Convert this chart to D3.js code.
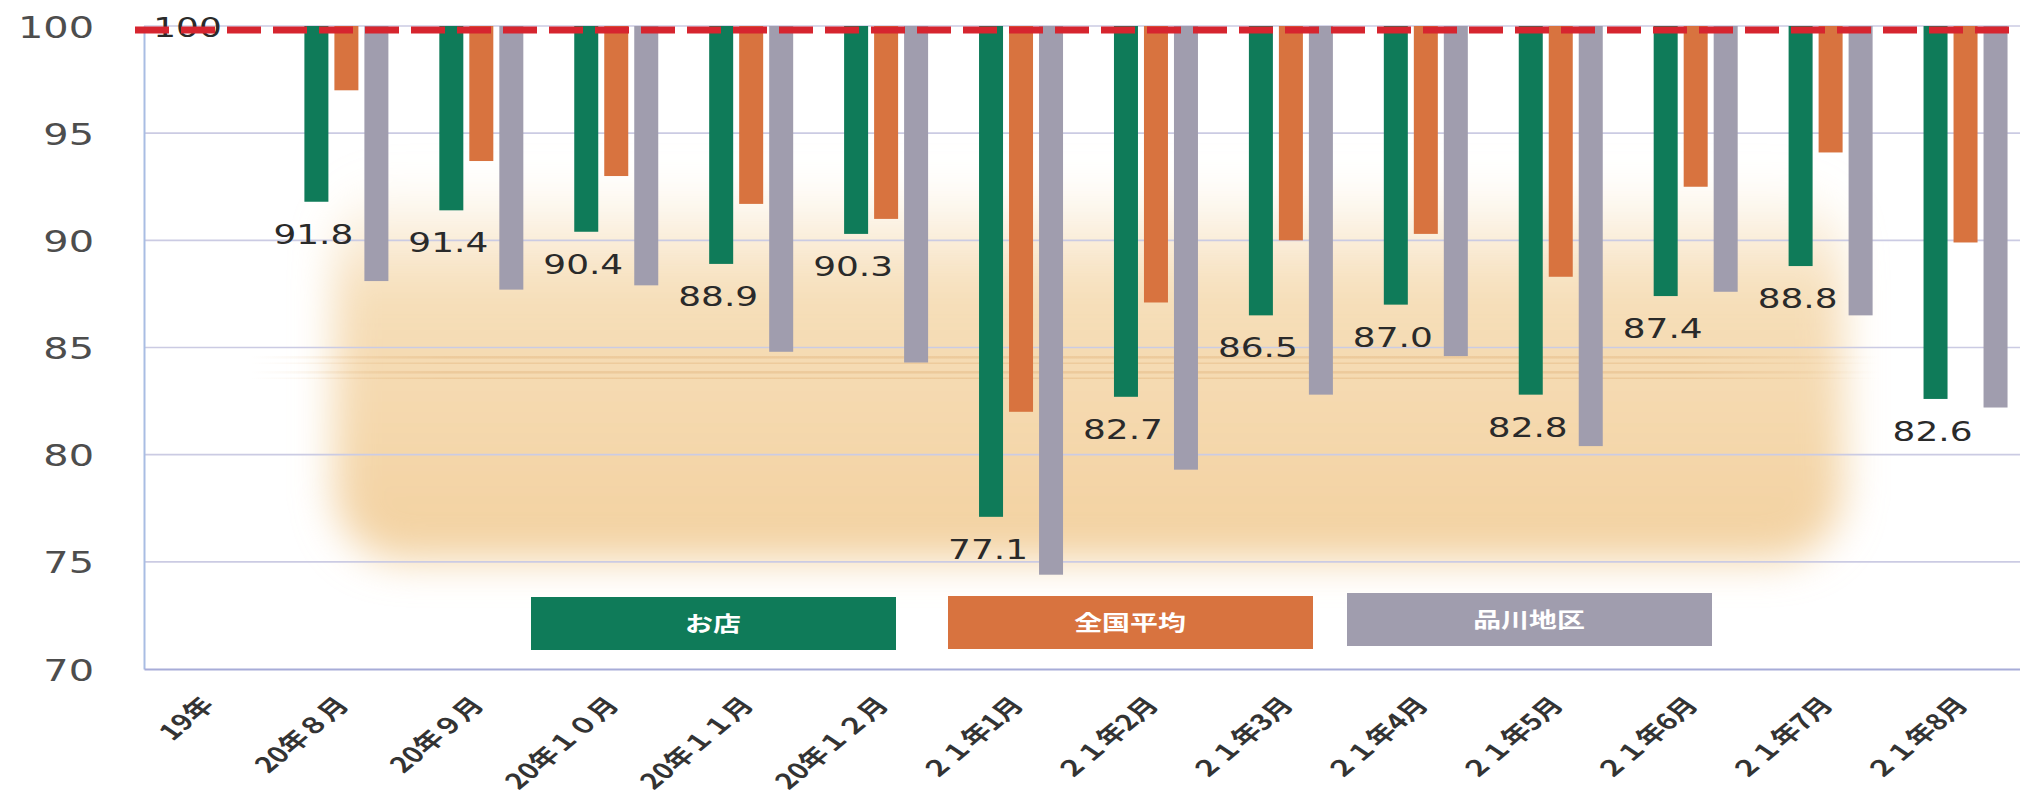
<!DOCTYPE html>
<html>
<head>
<meta charset="utf-8">
<script src="https://cdn.jsdelivr.net/npm/d3@7/dist/d3.min.js"></script>
<style>
  html, body { margin: 0; padding: 0; background: #ffffff; }
  svg { display: block; }
</style>
</head>
<body>
<svg id="chart" width="2020" height="794"></svg>
<script>
// ---------------- data ----------------
const categories = ["19年","20年８月","20年９月","20年１０月","20年１１月","20年１２月","２１年1月","２１年2月","２１年3月","２１年4月","２１年5月","２１年6月","２１年7月","２１年8月"];
const seriesNames = ["お店","全国平均","品川地区"];
const shopValues      = [100, 91.8, 91.4, 90.4, 88.9, 90.3, 77.1, 82.7, 86.5, 87.0, 82.8, 87.4, 88.8, 82.6];
const nationalValues  = [100, 97.0, 93.7, 93.0, 91.7, 91.0, 82.0, 87.1, 90.0, 90.3, 88.3, 92.5, 94.1, 89.9];
const shinagawaValues = [100, 88.1, 87.7, 87.9, 84.8, 84.3, 74.4, 79.3, 82.8, 84.6, 80.4, 87.6, 86.5, 82.2];
const yTicks = [70, 75, 80, 85, 90, 95, 100];
const baseValue = 100;

// ---------------- styles / layout ----------------
const seriesColors = ["#0f7b59", "#d8733f", "#a09dae"];
const seriesData = [shopValues, nationalValues, shinagawaValues];
const SX = 1.33; // horizontal stretch of the original picture
const W = 2020, H = 794;
const plot = { left: 144, right: 2033, top: 26, bottom: 669 };
const barW = 24, barOffset = 30;

const svg = d3.select("#chart");

const x = d3.scaleBand().domain(categories).range([plot.left, plot.right]).padding(0);
const y = d3.scaleLinear().domain([70, 100]).range([plot.bottom, plot.top]);

// ---------------- defs ----------------
const defs = svg.append("defs");
defs.append("filter").attr("id", "glowBlur")
  .attr("x", "-20%").attr("y", "-40%").attr("width", "140%").attr("height", "180%")
  .append("feGaussianBlur").attr("stdDeviation", 20);
const lg = defs.append("linearGradient").attr("id", "glowGrad").attr("x1", 0).attr("y1", 0).attr("x2", 0).attr("y2", 1);
lg.append("stop").attr("offset", "0%").attr("stop-color", "#f5dab0").attr("stop-opacity", 0.0);
lg.append("stop").attr("offset", "30%").attr("stop-color", "#f4d6a8").attr("stop-opacity", 0.8);
lg.append("stop").attr("offset", "100%").attr("stop-color", "#f1cc95").attr("stop-opacity", 0.9);
const sg = defs.append("linearGradient").attr("id", "streakGrad").attr("x1", 0).attr("y1", 0).attr("x2", 1).attr("y2", 0);
sg.append("stop").attr("offset", "0%").attr("stop-color", "#dba76a").attr("stop-opacity", 0);
sg.append("stop").attr("offset", "12%").attr("stop-color", "#dba76a").attr("stop-opacity", 0.45);
sg.append("stop").attr("offset", "88%").attr("stop-color", "#dba76a").attr("stop-opacity", 0.45);
sg.append("stop").attr("offset", "100%").attr("stop-color", "#dba76a").attr("stop-opacity", 0);

// ---------------- background glow ----------------
svg.append("rect")
  .attr("x", x(categories[1]) + 55).attr("y", y(93))
  .attr("width", x(categories[12]) + x.bandwidth() - x(categories[1]) - 110)
  .attr("height", y(75.1) - y(93))
  .attr("rx", 70)
  .attr("fill", "url(#glowGrad)")
  .attr("filter", "url(#glowBlur)");

// streaks
[84.6, 84.3, 83.9, 83.6].forEach((v, i) => {
  svg.append("rect")
    .attr("x", 250).attr("width", 1630)
    .attr("y", y(v)).attr("height", i % 2 === 0 ? 2.5 : 1.5)
    .attr("fill", "url(#streakGrad)").attr("opacity", 0.7);
});

// ---------------- gridlines ----------------
svg.append("g").selectAll("line").data(yTicks.filter(t => t > 70)).join("line")
  .attr("x1", plot.left).attr("x2", W)
  .attr("y1", d => y(d)).attr("y2", d => y(d))
  .attr("stroke", "#cbcbe3").attr("stroke-width", 1.6);

// ---------------- axes ----------------
const yAxis = svg.append("g").attr("transform", `translate(${plot.left},0)`)
  .call(d3.axisLeft(y).tickValues(yTicks).tickSize(0).tickFormat(d3.format("d")));
yAxis.select(".domain").attr("stroke", "#a9bde3").attr("stroke-width", 2);
yAxis.selectAll("text")
  .attr("x", -50 / SX).attr("dy", null).attr("y", 11)
  .attr("transform", `scale(${SX},1)`)
  .attr("text-anchor", "end")
  .style("font-family", "'DejaVu Sans', Verdana, sans-serif")
  .style("font-size", "30px").attr("fill", "#4d4d4d");

const xAxis = svg.append("g").attr("transform", `translate(0,${plot.bottom})`)
  .call(d3.axisBottom(x).tickSize(0));
xAxis.select(".domain").attr("stroke", "#a7acd8").attr("stroke-width", 2);
xAxis.selectAll("text")
  .attr("x", null).attr("y", null).attr("dy", null)
  .attr("text-anchor", "end")
  .attr("transform", `translate(4,37) scale(${SX},1) rotate(-48)`)
  .style("font-family", "'Noto Sans CJK JP', sans-serif")
  .style("font-size", "22px").style("font-weight", 600)
  .attr("fill", "#333333");

// ---------------- bars ----------------
const barsG = svg.append("g");
seriesData.forEach((vals, s) => {
  barsG.append("g").selectAll("rect").data(vals).join("rect")
    .attr("x", (d, i) => x(categories[i]) + x.bandwidth() / 2 + (s - 1) * barOffset - barW / 2)
    .attr("y", y(baseValue))
    .attr("width", barW)
    .attr("height", d => y(d) - y(baseValue))
    .attr("fill", seriesColors[s]);
});

// ---------------- value labels (お店) ----------------
svg.append("g").selectAll("text").data(shopValues).join("text")
  .attr("transform", (d, i) => {
    const cx = x(categories[i]) + x.bandwidth() / 2 - barOffset + (d === baseValue ? 6 : -3);
    const cy = d === baseValue ? y(d) + 11 : y(d) + 42;
    return `translate(${cx},${cy}) scale(${SX},1)`;
  })
  .attr("text-anchor", "middle")
  .style("font-family", "'DejaVu Sans', Verdana, sans-serif")
  .style("font-size", "27px")
  .attr("fill", "#2a2a2a")
  .text(d => d === baseValue ? d3.format("d")(d) : d3.format(".1f")(d));

// ---------------- baseline 100 dashed line ----------------
svg.append("line")
  .attr("x1", 135).attr("x2", W)
  .attr("y1", y(baseValue) + 4).attr("y2", y(baseValue) + 4)
  .attr("stroke", "#d6252f").attr("stroke-width", 7)
  .attr("stroke-dasharray", "34,12");

// ---------------- legend ----------------
const legendX = [531, 948, 1347];
const legendY = [597, 596, 593];
const legend = svg.append("g").selectAll("g").data(seriesNames).join("g")
  .attr("transform", (d, i) => `translate(${legendX[i]},${legendY[i]})`);
legend.append("rect").attr("width", 365).attr("height", 53)
  .attr("fill", (d, i) => seriesColors[i]);
legend.append("text")
  .attr("transform", `translate(182,34) scale(${SX},1)`)
  .attr("text-anchor", "middle")
  .style("font-family", "'Noto Sans CJK JP', sans-serif")
  .style("font-size", "21px").style("font-weight", 700)
  .attr("fill", "#ffffff")
  .text(d => d);
</script>
</body>
</html>
